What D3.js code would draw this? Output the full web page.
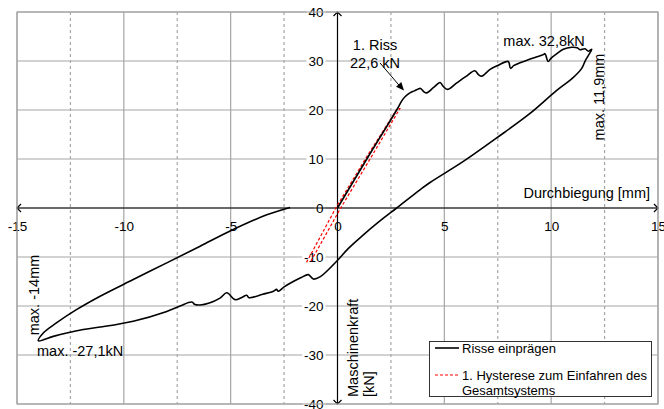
<!DOCTYPE html>
<html>
    <head>
        <meta charset="utf-8">
        <title>Risse einprägen</title>
        <script src="https://d3js.org/d3.v7.min.js"></script>
        <style>
            body { margin: 0; background: #fff; }
            text { font-family: "Liberation Sans", Arial, sans-serif; }
        </style>
    </head>
    <body>

    </body>
    <script>
        var w = 664;
        var h = 409;

        // Risse einprägen (Durchbiegung [mm], Maschinenkraft [kN])
        var durchbiegung = [0, 1.4, 2.77, 3.0, 3.16, 3.39, 3.6, 3.78, 3.89, 4.05, 4.17, 4.5, 4.8, 4.95, 5.14, 5.6, 6.0, 6.43, 6.6, 6.75,
            7.14, 7.5, 7.99, 8.1, 8.26, 8.9, 9.3, 9.63, 9.71, 9.86, 10.0, 10.3, 10.57, 10.96, 11.22, 11.35, 11.58, 11.74, 11.9,
            11.75, 11.6, 11.43, 11.0, 10.26, 9.01, 7.45, 5.89, 4.33, 3.86, 2.77, 2.0, 1.13, 0.5, 0.04, -0.43, -0.8, -1.13,
            -1.37, -1.7, -2.07, -2.5, -2.77, -2.85, -3.0, -3.5, -4.14, -4.25, -4.5, -4.8, -5.18, -5.5, -6.0, -6.43, -6.67,
            -6.82, -7.37, -7.99, -9.56, -11.1, -11.9, -12.67, -13.3, -14.0,
            -13.77, -13.14, -12.2, -11.11, -9.56, -7.99, -6.43, -4.88, -3.31, -2.22];
        var maschinenkraft = [0, 10.2, 20.0, 21.8, 22.7, 23.5, 23.9, 24.3, 24.4, 23.7, 23.5, 24.6, 25.6, 24.8, 24.2, 25.6, 26.8, 28.0, 27.2, 26.9,
            28.3, 29.1, 29.9, 28.5, 29.1, 30.2, 30.8, 31.3, 31.5, 29.9, 30.6, 31.6, 32.4, 32.8, 32.7, 32.3, 32.5, 32.0, 32.4,
            31.2, 30.1, 28.5, 26.5, 24.0, 19.3, 14.3, 9.5, 5.2, 3.7, 0, -2.6, -5.8, -8.3, -10.5, -12.6, -14.0, -14.5,
            -13.6, -14.2, -15.0, -16.1, -17.0, -16.6, -17.0, -17.6, -18.3, -17.8, -18.3, -18.7, -17.3, -18.4, -19.4, -19.8, -19.7,
            -19.2, -20.0, -21.1, -23.1, -24.3, -24.8, -25.5, -26.2, -27.1,
            -25.5, -23.4, -20.7, -18.0, -14.6, -11.2, -7.8, -4.4, -1.4, 0.1];

        // 1. Hysterese zum Einfahren des Gesamtsystems
        var hystereseX = [-1.45, -0.08, 1.33, 2.8, 2.92, 1.55, 0.15, -1.25];
        var hystereseY = [-11.1, 0, 10.2, 20.3, 20.3, 10.2, 0, -10.9];

        var xTicks = [-15, -10, -5, 0, 5, 10, 15];
        var xDashed = [-12.5, -7.5, -2.5, 2.5, 7.5, 12.5];
        var yTicks = [-40, -30, -20, -10, 0, 10, 20, 30, 40];

        var x = d3.scaleLinear().domain([-15, 15]).range([17, 658]);
        var y = d3.scaleLinear().domain([-40, 40]).range([404, 12]);

        var svg = d3.select("body")
                    .append("svg")
                    .attr("width", w)
                    .attr("height", h);

        var grid = svg.append("g").attr("stroke", "#a6a6a6").attr("stroke-width", 1.2);

        grid.selectAll("line.h")
            .data(yTicks)
            .enter()
            .append("line")
                .attr("x1", x(-15)).attr("x2", x(15))
                .attr("y1", function(d){ return y(d); })
                .attr("y2", function(d){ return y(d); });

        grid.selectAll("line.v")
            .data(xTicks.filter(function(d){ return d !== 0; }))
            .enter()
            .append("line")
                .attr("x1", function(d){ return x(d); })
                .attr("x2", function(d){ return x(d); })
                .attr("y1", y(40)).attr("y2", y(-40));

        grid.selectAll("line.d")
            .data(xDashed)
            .enter()
            .append("line")
                .attr("x1", function(d){ return x(d); })
                .attr("x2", function(d){ return x(d); })
                .attr("y1", y(40)).attr("y2", y(-40))
                .attr("stroke-dasharray", "3,3");

        // x axis through origin
        var xAxis = svg.append("g")
            .attr("transform", "translate(0," + y(0) + ")")
            .call(d3.axisBottom(x).tickValues(xTicks).tickSize(0).tickPadding(13).tickFormat(function(d){ return String(d); }));
        xAxis.select(".domain").remove();
        xAxis.selectAll("text").attr("font-size", 13.5).attr("fill", "#000");

        // y axis through origin
        var yAxis = svg.append("g")
            .attr("transform", "translate(" + x(0) + ",0)")
            .call(d3.axisLeft(y).tickValues(yTicks).tickSize(0).tickPadding(14).tickFormat(function(d){ return String(d); }));
        yAxis.select(".domain").remove();
        yAxis.selectAll("text").attr("font-size", 13.5).attr("fill", "#000");
        yAxis.selectAll(".tick").each(function(){
            var t = d3.select(this).select("text");
            var b = t.node().getBBox();
            d3.select(this).insert("rect", "text")
                .attr("x", b.x - 2).attr("y", b.y + 2)
                .attr("width", b.width + 4).attr("height", b.height - 4)
                .attr("fill", "#fff");
        });

        var axes = svg.append("g").attr("stroke", "#000").attr("stroke-width", 1.2).attr("fill", "none");
        axes.append("line").attr("x1", x(-15)).attr("x2", x(15)).attr("y1", y(0)).attr("y2", y(0));
        axes.append("line").attr("x1", x(0)).attr("x2", x(0)).attr("y1", y(40)).attr("y2", y(-40));
        var a = 4;
        axes.append("path").attr("d", "M" + (x(15) - a) + "," + (y(0) - a) + "L" + x(15) + "," + y(0) + "L" + (x(15) - a) + "," + (y(0) + a));
        axes.append("path").attr("d", "M" + (x(-15) + a) + "," + (y(0) - a) + "L" + x(-15) + "," + y(0) + "L" + (x(-15) + a) + "," + (y(0) + a));
        axes.append("path").attr("d", "M" + (x(0) - a) + "," + (y(40) + a) + "L" + x(0) + "," + y(40) + "L" + (x(0) + a) + "," + (y(40) + a));
        axes.append("path").attr("d", "M" + (x(0) - a) + "," + (y(-40) - a) + "L" + x(0) + "," + y(-40) + "L" + (x(0) + a) + "," + (y(-40) - a));

        // plot border
        svg.append("rect")
            .attr("x", x(-15)).attr("y", y(40))
            .attr("width", x(15) - x(-15)).attr("height", y(-40) - y(40))
            .attr("fill", "none").attr("stroke", "#a6a6a6").attr("stroke-width", 1.2);

        var line = d3.line()
            .x(function(d){ return x(d[0]); })
            .y(function(d){ return y(d[1]); });

        var smooth = d3.line()
            .curve(d3.curveCatmullRom.alpha(0.5))
            .x(function(d){ return x(d[0]); })
            .y(function(d){ return y(d[1]); });

        svg.append("path")
            .datum(d3.zip(hystereseX, hystereseY))
            .attr("d", line)
            .attr("fill", "none")
            .attr("stroke", "#ff0000")
            .attr("stroke-width", 1.2)
            .attr("stroke-dasharray", "3,2");

        svg.append("path")
            .datum(d3.zip(durchbiegung, maschinenkraft))
            .attr("d", smooth)
            .attr("fill", "none")
            .attr("stroke", "#000")
            .attr("stroke-width", 1.6)
            .attr("stroke-linejoin", "round");

        // axis titles
        svg.append("text")
            .attr("x", 650).attr("y", 198)
            .attr("text-anchor", "end")
            .attr("font-size", 14.5)
            .text("Durchbiegung [mm]");

        var yt = svg.append("text")
            .attr("transform", "translate(" + (x(0) + 20) + ",397) rotate(-90)")
            .attr("font-size", 14.5);
        yt.append("tspan").attr("x", 0).attr("y", 0).text("Maschinenkraft");
        yt.append("tspan").attr("x", 0).attr("y", 16).text("[kN]");

        // annotations
        svg.append("text").attr("x", 375).attr("y", 50).attr("text-anchor", "middle").attr("font-size", 14.5).text("1. Riss");
        svg.append("text").attr("x", 375).attr("y", 68).attr("text-anchor", "middle").attr("font-size", 14.5).text("22,6 kN");
        svg.append("line")
            .attr("x1", x(1.99)).attr("y1", y(29.6))
            .attr("x2", x(3.05)).attr("y2", y(24.2))
            .attr("stroke", "#000").attr("stroke-width", 1);
        var ex = x(3.11), ey = y(24.0);
        var ang = Math.atan2(ey - y(29.6), ex - x(1.99));
        var hl = 8, hw = 3.5;
        svg.append("path")
            .attr("d", "M" + ex + "," + ey +
                "L" + (ex - hl * Math.cos(ang) + hw * Math.sin(ang)) + "," + (ey - hl * Math.sin(ang) - hw * Math.cos(ang)) +
                "L" + (ex - hl * Math.cos(ang) - hw * Math.sin(ang)) + "," + (ey - hl * Math.sin(ang) + hw * Math.cos(ang)) + "Z")
            .attr("fill", "#000");

        svg.append("text").attr("x", 544).attr("y", 46).attr("text-anchor", "middle").attr("font-size", 14.5).text("max. 32,8kN");
        svg.append("text").attr("transform", "translate(604,97) rotate(-90)").attr("text-anchor", "middle").attr("font-size", 14.5).text("max. 11,9mm");
        svg.append("text").attr("transform", "translate(39,295) rotate(-90)").attr("text-anchor", "middle").attr("font-size", 14.5).text("max. -14mm");
        svg.append("text").attr("x", 37).attr("y", 356).attr("font-size", 14.5).text("max. -27,1kN");

        // legend
        var lg = svg.append("g");
        lg.append("rect")
            .attr("x", 429.5).attr("y", 341.5).attr("width", 222).attr("height", 55)
            .attr("fill", "#fff").attr("stroke", "#333").attr("stroke-width", 1);
        lg.append("line").attr("x1", 435).attr("x2", 459).attr("y1", 348).attr("y2", 348)
            .attr("stroke", "#000").attr("stroke-width", 1.6);
        lg.append("text").attr("x", 462).attr("y", 352.5).attr("font-size", 13).text("Risse einprägen");
        lg.append("line").attr("x1", 435).attr("x2", 459).attr("y1", 375).attr("y2", 375)
            .attr("stroke", "#ff0000").attr("stroke-width", 1.2).attr("stroke-dasharray", "3,2");
        lg.append("text").attr("x", 462).attr("y", 379.5).attr("font-size", 13).text("1. Hysterese zum Einfahren des");
        lg.append("text").attr("x", 462).attr("y", 395).attr("font-size", 13).text("Gesamtsystems");
    </script>
</html>
